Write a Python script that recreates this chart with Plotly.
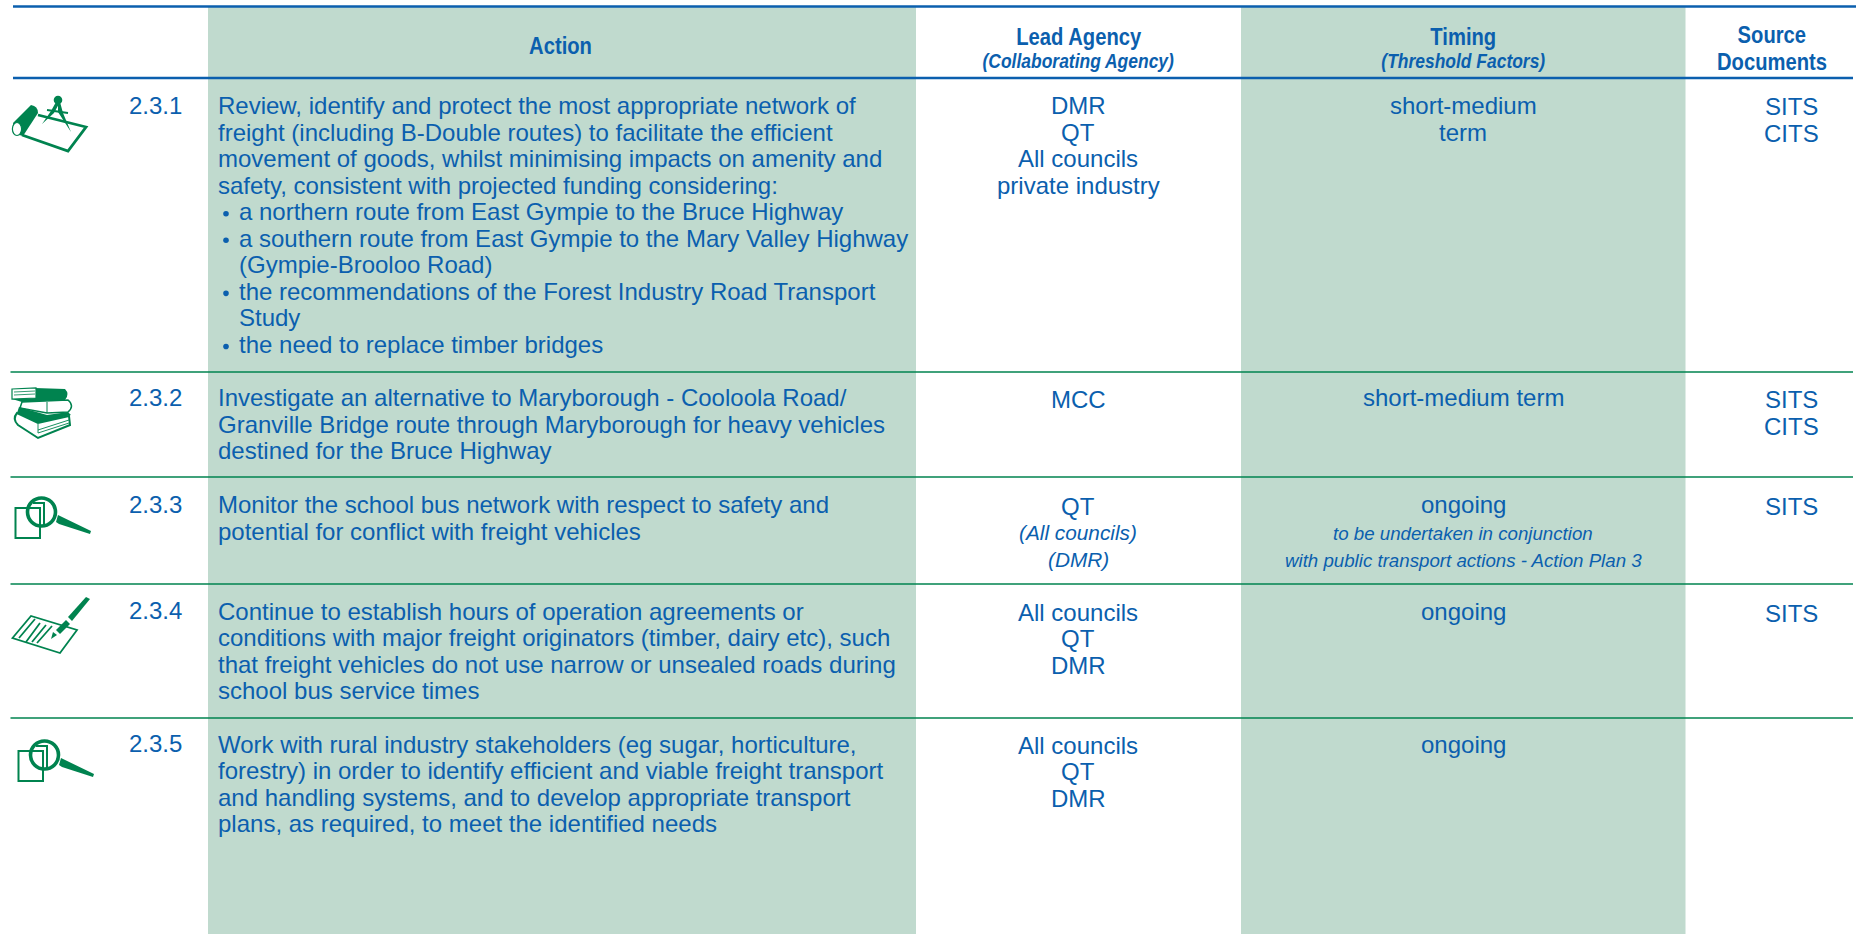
import plotly.graph_objects as go

BLUE = "#0b5fae"
GREEN = "#00834f"
BAND = "#c0dace"

header_action = "Action"
header_lead = ["Lead Agency", "<i>(Collaborating Agency)</i>"]
header_timing = ["Timing", "<i>(Threshold Factors)</i>"]
header_source = ["Source", "Documents"]

numbers = ["2.3.1", "2.3.2", "2.3.3", "2.3.4", "2.3.5"]
actions = [
    ["Review, identify and protect the most appropriate network of",
     "freight (including B-Double routes) to facilitate the efficient",
     "movement of goods, whilst minimising impacts on amenity and",
     "safety, consistent with projected funding considering:",
     "* a northern route from East Gympie to the Bruce Highway",
     "* a southern route from East Gympie to the Mary Valley Highway",
     "> (Gympie-Brooloo Road)",
     "* the recommendations of the Forest Industry Road Transport",
     "> Study",
     "* the need to replace timber bridges"],
    ["Investigate an alternative to Maryborough - Cooloola Road/",
     "Granville Bridge route through Maryborough for heavy vehicles",
     "destined for the Bruce Highway"],
    ["Monitor the school bus network with respect to safety and",
     "potential for conflict with freight vehicles"],
    ["Continue to establish hours of operation agreements or",
     "conditions with major freight originators (timber, dairy etc), such",
     "that freight vehicles do not use narrow or unsealed roads during",
     "school bus service times"],
    ["Work with rural industry stakeholders (eg sugar, horticulture,",
     "forestry) in order to identify efficient and viable freight transport",
     "and handling systems, and to develop appropriate transport",
     "plans, as required, to meet the identified needs"],
]
lead = [
    ["DMR", "QT", "All councils", "private industry"],
    ["MCC"],
    ["QT", "<i>(All councils)</i>", "<i>(DMR)</i>"],
    ["All councils", "QT", "DMR"],
    ["All councils", "QT", "DMR"],
]
timing = [
    ["short-medium", "term"],
    ["short-medium term"],
    ["ongoing", "~to be undertaken in conjunction", "~with public transport actions - Action Plan 3"],
    ["ongoing"],
    ["ongoing"],
]
sources = [["SITS", "CITS"], ["SITS", "CITS"], ["SITS"], ["SITS"], []]

row_first_line = [105.5, 397.5, 504.5, 611, 744]
lead_first_line = [105.5, 399, 506, 612, 745]
source_first_line = [106, 399, 506, 613, 0]
row_rules = [372, 477, 584, 718]
PITCH = 26.55
FS = 24

fig = go.Figure()
shapes = []
ann = []


def text(x, y, s, size=FS, anchor="left", family="Liberation Sans", color=BLUE):
    ann.append(dict(x=x, y=y, xref="x", yref="y", text=s, showarrow=False,
                    xanchor=anchor, yanchor="middle", align=anchor,
                    font=dict(family=family, size=size, color=color),
                    borderpad=0, borderwidth=0))


def path(d, fill=None, line=None, w=1.5):
    s = dict(type="path", path=d, xref="x", yref="y", layer="above")
    s["fillcolor"] = fill if fill else "rgba(0,0,0,0)"
    s["line"] = dict(color=line if line else "rgba(0,0,0,0)", width=w if line else 0)
    shapes.append(s)


def circle(cx, cy, r, fill=None, line=None, w=1.5, ry=None):
    ry = ry or r
    shapes.append(dict(type="circle", xref="x", yref="y", x0=cx - r, x1=cx + r, y0=cy - ry, y1=cy + ry,
                       layer="above",
                       fillcolor=fill if fill else "rgba(0,0,0,0)",
                       line=dict(color=line if line else "rgba(0,0,0,0)", width=w if line else 0)))


# bands
for x0, x1 in [(208, 916), (1241, 1685.5)]:
    shapes.append(dict(type="rect", xref="x", yref="y", x0=x0, x1=x1, y0=7, y1=934,
                       fillcolor=BAND, line=dict(width=0), layer="below"))
# rules
for y, x1 in [(6.5, 1856), (78, 1853)]:
    shapes.append(dict(type="line", xref="x", yref="y", x0=13, x1=x1, y0=y, y1=y,
                       line=dict(color=BLUE, width=2.6), layer="above"))
for y in row_rules:
    shapes.append(dict(type="line", xref="x", yref="y", x0=10.5, x1=1853, y0=y, y1=y,
                       line=dict(color=GREEN, width=1.4), layer="above"))

# header
HS = 23.5
SUB = 20.3
text(560, 45.5, "<b>%s</b>" % header_action, HS, "center")
for i, s in enumerate(header_lead):
    text(1078, 37 + i * 24, "<b>%s</b>" % s, [HS, SUB][i], "center")
for i, s in enumerate(header_timing):
    text(1463, 37 + i * 24, "<b>%s</b>" % s, [HS, SUB][i], "center")
for i, s in enumerate(header_source):
    text(1772, 35 + i * 26.5, "<b>%s</b>" % s, HS, "center")

# rows
for r in range(len(numbers)):
    text(128.5, row_first_line[r] - 0.5, numbers[r])
    for i, s in enumerate(actions[r]):
        y = row_first_line[r] + i * PITCH
        if s.startswith("* "):
            circle(226, y + 2, 2.8, fill=BLUE)
            text(238.5, y, s[2:])
        elif s.startswith("> "):
            text(239, y, s[2:])
        else:
            text(218, y, s)
    for i, s in enumerate(lead[r]):
        text(1078, lead_first_line[r] + i * PITCH, s, anchor="center", size=20.8 if "<i>" in s else FS)
    for i, s in enumerate(timing[r]):
        if s.startswith("~"):
            text(1463, row_first_line[r] + 1 + i * 27.5, "<i>%s</i>" % s[1:], 18.7, "center")
        else:
            text(1463, row_first_line[r] + i * PITCH, s, anchor="center")
    for i, s in enumerate(sources[r]):
        text(1791, source_first_line[r] + i * 27.5, s, anchor="center")

# --- icon 1: roll, sheet and compass
path("M 38 115 L 86 127 L 68 151 L 22 135", line=GREEN, w=2.8)
path("M 13 123 L 31 105 Q 38 106 38 113 L 23 136 Q 14 135 13 123 Z", fill=GREEN)
circle(17, 129, 4.6, fill="white", line=GREEN, w=1.2, ry=6.5)
circle(58, 100, 4.3, fill=GREEN)
path("M 56 102 L 60 102 L 54 113 L 42 124 L 51 111 Z", fill=GREEN)
path("M 58 102 L 60 102 L 63 113 L 71 132 L 58 112 Z", fill=GREEN)
path("M 47 110 L 68 113", line=GREEN, w=1.8)

# --- icon 2: stack of books
path("M 35 388 L 65 389 Q 70 394 65 400 L 22 402 L 12 399 L 35 398 Z", fill=GREEN)
path("M 12 389 L 36 388 L 36 398 L 12 399 Z", fill="white", line=GREEN, w=1.2)
path("M 14 392 L 35 391 M 14 395 L 35 394", line=GREEN, w=0.8)
path("M 22 402 L 68 400 Q 75 406 68 412 L 47 413 L 20 408 Z", fill="white", line=GREEN, w=1.5)
path("M 47 402 L 47 413", line=GREEN, w=1)
path("M 19 407 L 47 415 L 68 412 L 71 415 L 38 423 L 17 413 Z", fill=GREEN)
path("M 17 413 Q 12 419 18 425 L 38 438 L 70 425 L 69 416 L 38 423 Z", fill="white", line=GREEN, w=2)
path("M 38 424 L 38 433 M 38 430 L 69 420 M 38 433 L 69 423", line=GREEN, w=0.9)


# --- icons 3 and 5: magnifier over sheet
def magnifier(dx, dy):
    path(f"M {15.5+dx} {508+dy} L {40+dx} {508+dy} L {40+dx} {538+dy} L {15.5+dx} {538+dy} Z", line=GREEN, w=2)
    path(f"M {33+dx} {503+dy} L {44+dx} {503+dy} L {44+dx} {525+dy}", line=GREEN, w=2)
    circle(41.5 + dx, 512 + dy, 14, line=GREEN, w=3.6)
    path(f"M {58+dx} {515+dy} L {91+dx} {531+dy} L {90+dx} {534+dy} L {59+dx} {524+dy} L {56+dx} {522+dy} Z", fill=GREEN)


magnifier(0, 0)
magnifier(3, 243)

# --- icon 4: sheet and pen
path("M 12.5 638 L 31 616 L 77 630 L 60 653 Z", fill="white", line=GREEN, w=1.8)
path("M 19 638 L 35 619 M 26 642 L 40 623 M 32 642 L 46 625 M 37 643 L 52 626", line=GREEN, w=1.8)
path("M 68 617 L 86 597 L 90 599 L 72 621 Z", fill=GREEN)
path("M 56 630 L 66 620 L 70 624 L 60 634 Z", fill=GREEN)
path("M 51 639 L 53 632 L 57 635 Z", fill=GREEN)

fig.update_layout(
    width=1856, height=934, autosize=False,
    margin=dict(l=0, r=0, t=0, b=0),
    paper_bgcolor="white", plot_bgcolor="white",
    showlegend=False,
    xaxis=dict(range=[0, 1856], visible=False, fixedrange=True),
    yaxis=dict(range=[934, 0], visible=False, fixedrange=True),
    shapes=shapes, annotations=ann,
)

# The reference's header face is a condensed bold; none is installed, so the bold
# header lines are narrowed horizontally about their own centres once drawn.
post = """
document.body.style.margin='0';
document.documentElement.style.overflow='hidden';
document.querySelectorAll('.annotation-text').forEach(function(t){
  if(!t.querySelector('[style*="bold"]')) return;
  var b=t.getBBox(), c=b.x+b.width/2;
  t.setAttribute('transform','translate('+c+',0) scale(0.86,1) translate('+(-c)+',0)');
});
"""
fig.write_html("out.html", config={"displayModeBar": False}, post_script=post)
